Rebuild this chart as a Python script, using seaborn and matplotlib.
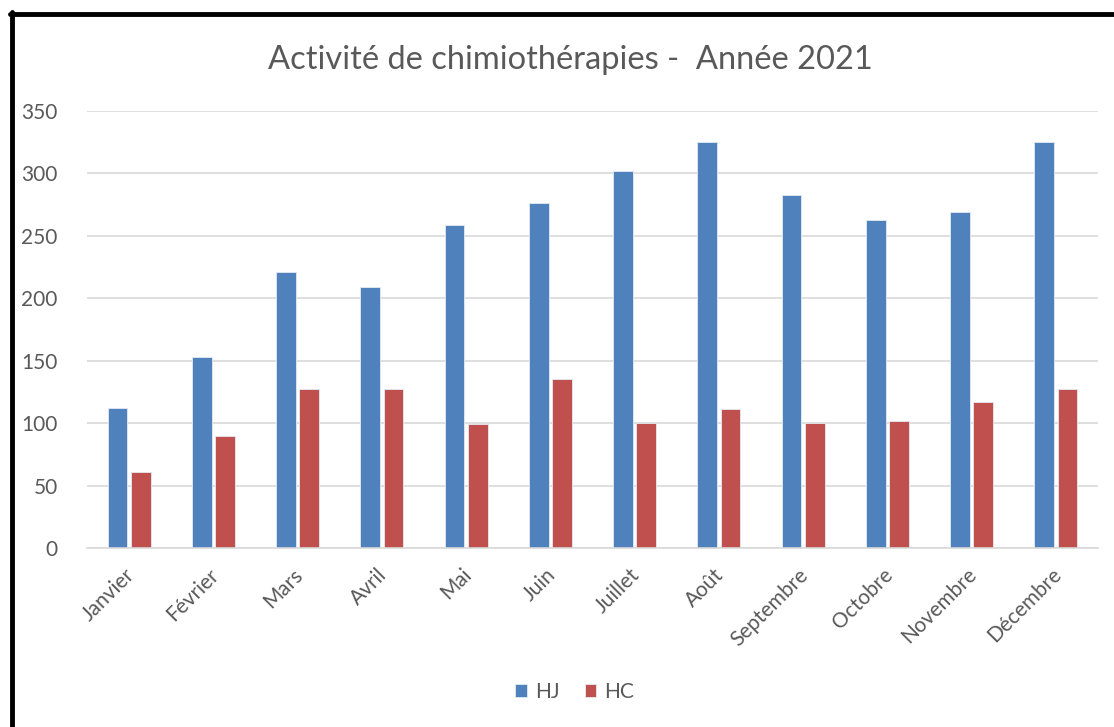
"""Activité de chimiothérapies 2021 : HJ vs HC par mois."""

import matplotlib

matplotlib.use("Agg")
import matplotlib.pyplot as plt
import matplotlib.transforms as mtransforms
import pandas as pd
import seaborn as sns
from matplotlib.lines import Line2D

mois = [
    "Janvier", "Février", "Mars", "Avril", "Mai", "Juin",
    "Juillet", "Août", "Septembre", "Octobre", "Novembre", "Décembre",
]
hj = [112, 153, 221, 209, 259, 276, 302, 325, 283, 263, 269, 325]
hc = [61, 90, 127, 127, 99, 135, 100, 111, 100, 102, 117, 127]
series = ["HJ", "HC"]
yticks = [0, 50, 100, 150, 200, 250, 300, 350]

GREY = "#595959"
GRID = "#D9D9D9"

frame = pd.DataFrame({
    "mois": mois * 2,
    "valeur": hj + hc,
    "serie": [series[0]] * len(mois) + [series[1]] * len(mois),
})

sns.set_theme(style="white")
plt.rcParams["font.family"] = ["Lato", "DejaVu Sans"]

fig = plt.figure(figsize=(11.14, 7.27), dpi=100)
ax = fig.add_axes([87 / 1114, 1 - 548 / 727, (1098 - 87) / 1114, (548 - 111) / 727])

sns.barplot(
    data=frame, x="mois", y="valeur", hue="serie", order=mois,
    palette={"HJ": "#4F81BD", "HC": "#C0504D"}, saturation=1,
    width=0.55, gap=0.15, edgecolor="#e4ebf3", linewidth=0.6, ax=ax,
)

ax.set_ylim(0, 350)
ax.set_xlim(-0.5, len(mois) - 0.5)
ax.set_yticks(yticks)
ax.set_yticklabels([str(v) for v in yticks])
ax.yaxis.grid(True, color=GRID, linewidth=1.2)
ax.set_axisbelow(True)
for side in ["top", "right", "left"]:
    ax.spines[side].set_visible(False)
ax.spines["bottom"].set_color(GRID)
ax.spines["bottom"].set_linewidth(1.2)
ax.tick_params(axis="both", length=0, colors=GREY, labelsize=15)
ax.tick_params(axis="y", pad=21)
ax.tick_params(axis="x", pad=12)
shift = mtransforms.ScaledTranslation(-5 / 100, 0, fig.dpi_scale_trans)
for label in ax.get_xticklabels():
    label.set_rotation(45)
    label.set_ha("right")
    label.set_rotation_mode("anchor")
    label.set_transform(label.get_transform() + shift)
ax.set_xlabel("")
ax.set_ylabel("")

fig.text(0.512, 1 - 60 / 727, "Activité de chimiothérapies -  Année 2021",
         ha="center", va="center", fontsize=23.5, color=GREY)

sns.move_legend(
    ax, "center", bbox_to_anchor=(0.516, 1 - 692 / 727),
    bbox_transform=fig.transFigure, ncol=2, frameon=False, title=None,
    fontsize=15, handlelength=0.55, handleheight=0.55, handletextpad=0.4,
    columnspacing=1.2,
)
for text in ax.get_legend().get_texts():
    text.set_color(GREY)

# cadre noir de la capture (haut et gauche)
fig.add_artist(Line2D([12 / 1114, 12 / 1114], [0, 1 - 12 / 727],
                      color="black", linewidth=3.5, transform=fig.transFigure))
fig.add_artist(Line2D([10 / 1114, 1], [1 - 14 / 727, 1 - 14 / 727],
                      color="black", linewidth=3.5, transform=fig.transFigure))

fig.savefig("out.png", dpi=100)
